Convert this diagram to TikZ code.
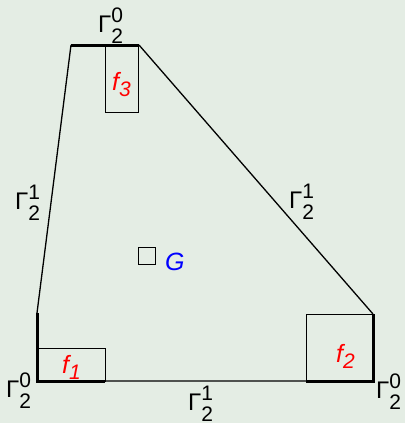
\documentclass[tikz,border=0pt]{standalone}
\usepackage{fontspec}
\setmainfont{Liberation Sans}
\usetikzlibrary{positioning}
\definecolor{bgpanel}{RGB}{228,237,228}
\newcommand{\gamlab}[2]{Γ\rlap{\raisebox{10pt}{\fontsize{21}{21}\selectfont #1}}\raisebox{-11pt}{\fontsize{21}{21}\selectfont #2}}
\newcommand{\flab}[1]{f\raisebox{-6pt}{\fontsize{21}{21}\selectfont #1}}

\begin{document}
\begin{tikzpicture}[x=1pt, y=-1pt,
  edge/.style={line width=1.3pt},
  bnd/.style={line width=3pt},
  box/.style={draw, line width=0.8pt},
  lab/.style={anchor=base west, inner sep=0pt, font=\fontsize{24}{24}\selectfont},
  flb/.style={anchor=base west, inner sep=0pt, text=red, font=\fontsize{25}{25}\selectfont\itshape}
]
\fill[bgpanel] (0,0) rectangle (405,423);
\useasboundingbox (0,0) rectangle (405,423);
% corners of the domain
\coordinate (tl) at (71,45); \coordinate (tr) at (139,45);
\coordinate (rt) at (373,314); \coordinate (br) at (373,381);
\coordinate (bl) at (37,381); \coordinate (lt) at (37,313);
\coordinate (b1) at (105,381); \coordinate (b2) at (306,381);

\draw[edge] (tl) -- (lt) (tr) -- (rt) (bl) -- (br);
\draw[bnd] (tl) -- (tr);
\draw[bnd] (lt) -- (bl) -- (b1);
\draw[bnd] (b2) -- (br) -- (rt);

% supports of f1, f2, f3
\draw[box] (105,45) rectangle (138,112);
\draw[box] (bl) rectangle (105,348);
\draw[box] (b2) rectangle (rt);
\node[flb] (f1) at (62,373) {\flab{1}};
\node[flb] (f2) at (336,362) {\flab{2}};
\node[flb] (f3) at (112,90) {\flab{3}};

% the point G
\node[draw, line width=0.8pt, minimum size=17pt, inner sep=0pt] (sq) at (147,255.5) {};
\node[anchor=base west, inner sep=0pt, text=blue, font=\fontsize{25}{25}\selectfont\itshape] (gl) at (165,270) {G};

% boundary labels
\node[lab] (g1) at (98,32) {\gamlab{0}{2}};
\node[lab] (g2) at (15,209) {\gamlab{1}{2}};
\node[lab] (g3) at (289,208) {\gamlab{1}{2}};
\node[lab] (g4) at (6,397) {\gamlab{0}{2}};
\node[lab] (g5) at (188,410) {\gamlab{1}{2}};
\node[lab] (g6) at (376,398) {\gamlab{0}{2}};
\end{tikzpicture}
\end{document}
